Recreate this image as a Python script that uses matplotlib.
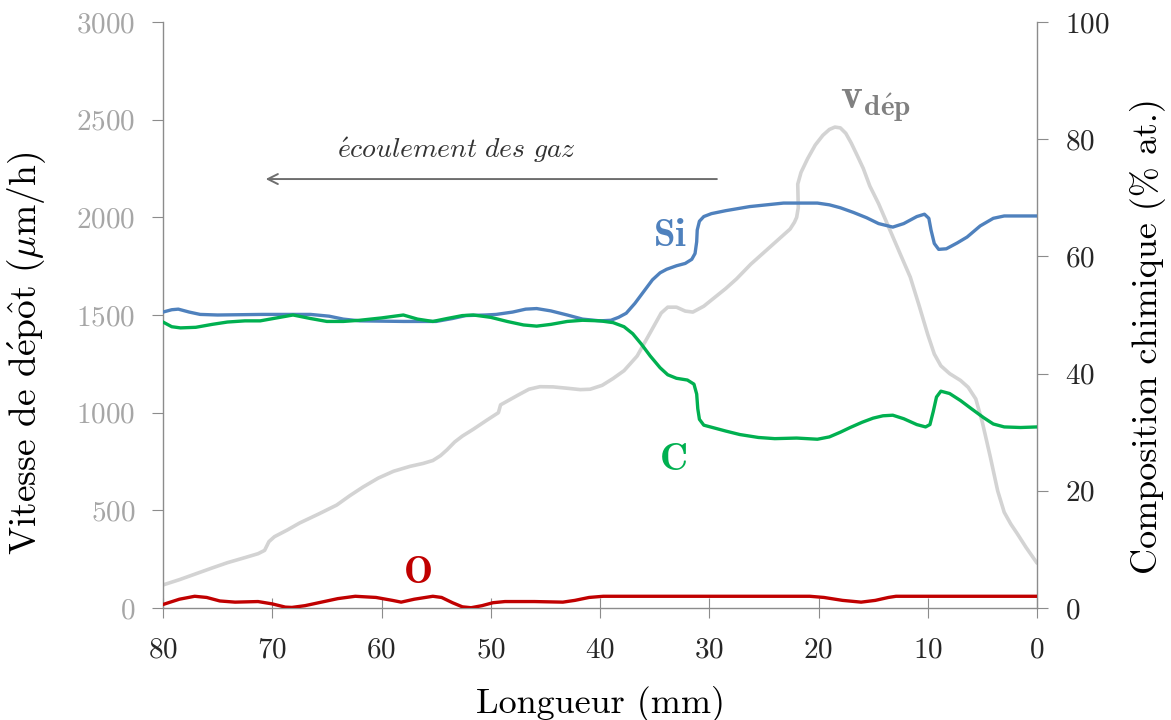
import matplotlib
matplotlib.use("Agg")
import matplotlib.pyplot as plt

plt.rcParams['font.family'] = ['cmr10']
plt.rcParams['mathtext.fontset'] = 'cm'
plt.rcParams['axes.formatter.use_mathtext'] = True
plt.rcParams['axes.unicode_minus'] = False

# ---- data ----
# deposition rate (µm/h) vs length (mm)
v_x = [80, 78.5, 77.25, 75.5, 74.1, 72.5, 71.3, 70.7, 70.3, 69.8, 68.6, 67.5, 65.8,
       64.1, 62.9, 61.7, 60.3, 58.9, 57.4, 56.2, 55.3, 54.6, 54.0, 53.3, 52.6, 51.6,
       50.4, 49.3, 49.1, 48.3, 47.5, 46.5, 45.5, 44.3, 43.0, 41.8, 40.9, 39.8, 38.8,
       37.8, 36.6, 35.8, 35.1, 34.4, 33.8, 33.0, 32.2, 31.5, 30.5, 29.5, 28.5, 27.5,
       26.2, 24.7, 23.5, 22.6, 22.2, 22.0, 21.85, 21.9, 21.6, 21.0, 20.3, 19.6, 19.0,
       18.5, 18.0, 17.5, 17.0, 16.4, 15.9, 15.3, 14.5, 13.5, 12.5, 11.6, 10.8, 10.0,
       9.4, 8.8, 8.0, 7.0, 6.3, 5.6, 5.0, 4.3, 3.6, 3.0, 2.4, 1.8, 1.0, 0]
v_y = [118, 145, 170, 205, 232, 258, 278, 295, 340, 365, 400, 435, 480,
       527, 575, 619, 665, 700, 725, 740, 755, 780, 810, 850, 880, 915,
       960, 1000, 1040, 1065, 1090, 1120, 1133, 1132, 1125, 1118, 1120, 1140, 1175,
       1215, 1290, 1370, 1440, 1510, 1540, 1540, 1520, 1515, 1545, 1590, 1635, 1685,
       1760, 1835, 1895, 1940, 1975, 2000, 2050, 2170, 2230, 2300, 2370, 2420, 2450,
       2462, 2458, 2430, 2380, 2310, 2250, 2160, 2070, 1940, 1810, 1694, 1550, 1400,
       1300, 1240, 1200, 1165, 1130, 1070, 950, 780, 600, 490, 430, 380, 310, 230]

# Si (% at.)
si_x = [80, 79.2, 78.6, 77.6, 76.6, 75.0, 70.9, 66.5, 64.8, 63.5, 62.0, 58.0, 55.0,
        53.5, 52.3, 50.5, 49.5, 48.0, 46.8, 45.8, 44.5, 43.0, 41.6, 40.0, 39.0, 38.3,
        37.6, 36.8, 36.0, 35.2, 34.5, 33.9, 33.0, 32.2, 31.6, 31.3, 31.15, 31.1, 30.9,
        30.5, 29.8, 28.5, 26.3, 23.2, 20.1, 19.0, 18.0, 16.8, 15.6, 14.5, 13.2, 12.2,
        11.0, 10.3, 9.9, 9.7, 9.4, 9.0, 8.3, 7.3, 6.4, 5.2, 4.0, 3.0, 0]
si_y = [50.5, 50.9, 51.0, 50.5, 50.1, 50.0, 50.1, 50.1, 49.8, 49.3, 49.0, 48.9, 48.9,
        49.4, 49.9, 50.0, 50.1, 50.5, 51.0, 51.1, 50.7, 50.0, 49.3, 49.0, 49.1, 49.6,
        50.3, 52.0, 54.0, 56.0, 57.2, 57.8, 58.4, 58.8, 59.5, 60.5, 62.5, 64.5, 66.0,
        66.8, 67.3, 67.8, 68.5, 69.1, 69.1, 68.8, 68.3, 67.5, 66.6, 65.6, 65.0, 65.6,
        66.8, 67.2, 66.5, 64.5, 62.2, 61.2, 61.3, 62.3, 63.3, 65.2, 66.5, 66.9, 66.9]

# C (% at.)
c_x = [80, 79.2, 78.4, 77.0, 75.5, 74.1, 72.5, 71.1, 69.6, 68.1, 66.5, 65.0, 63.5,
       62.0, 60.0, 58.0, 56.7, 55.3, 54.0, 52.6, 51.6, 50.0, 48.5, 47.0, 45.8, 44.5,
       43.0, 41.6, 40.0, 38.8, 37.8, 37.0, 36.2, 35.4, 34.5, 33.8, 33.0, 32.0, 31.4,
       31.15, 31.05, 30.9, 30.5, 29.7, 28.5, 27.2, 25.5, 24.0, 22.0, 20.1, 19.0, 18.0,
       17.1, 16.0, 15.0, 14.1, 13.2, 12.2, 11.0, 10.2, 9.8, 9.5, 9.2, 8.8, 8.0,
       7.0, 6.0, 4.9, 4.0, 3.0, 1.5, 0]
c_y = [48.8, 48.0, 47.8, 47.9, 48.4, 48.8, 49.0, 49.0, 49.5, 50.0, 49.4, 48.9, 48.9,
       49.1, 49.5, 50.0, 49.3, 48.9, 49.4, 49.9, 50.0, 49.6, 48.9, 48.3, 48.1, 48.4,
       48.9, 49.1, 49.0, 48.7, 48.0, 46.8, 45.0, 43.0, 41.0, 39.8, 39.2, 38.9, 38.2,
       36.5, 34.0, 32.2, 31.2, 30.8, 30.2, 29.6, 29.1, 28.9, 29.0, 28.8, 29.2, 30.0,
       30.8, 31.7, 32.4, 32.8, 32.9, 32.3, 31.3, 30.9, 31.3, 33.5, 36.0, 37.0, 36.6,
       35.4, 34.0, 32.5, 31.4, 30.9, 30.8, 30.9]

# O (% at.)
o_x = [80, 78.5, 77.1, 76.0, 74.8, 73.4, 71.3, 70.0, 68.8, 68.2, 67.0, 65.5, 64.0,
       62.4, 60.5, 59.0, 58.2, 57.0, 55.3, 54.5, 53.5, 52.6, 51.8, 50.8, 49.8, 48.7,
       46.0, 43.4, 42.3, 41.0, 39.7, 20.8, 19.5, 17.8, 16.1, 14.8, 13.6, 12.9, 0]
o_y = [0.6, 1.5, 2.0, 1.8, 1.2, 1.0, 1.1, 0.7, 0.15, 0.1, 0.4, 1.0, 1.6,
       2.0, 1.8, 1.3, 1.0, 1.5, 2.0, 1.8, 0.9, 0.2, 0.05, 0.4, 0.9, 1.1,
       1.1, 1.0, 1.3, 1.8, 2.0, 2.0, 1.8, 1.3, 1.0, 1.3, 1.8, 2.0, 2.0]

left_ticks = [0, 500, 1000, 1500, 2000, 2500, 3000]
right_ticks = [0, 20, 40, 60, 80, 100]
x_ticks = [80, 70, 60, 50, 40, 30, 20, 10, 0]

# ---- figure ----
fig = plt.figure(figsize=(11.71, 7.20), dpi=100)
ax = fig.add_axes([163/1171, 1-608/720, (1037-163)/1171, (608-22)/720])
ax2 = ax.twinx()

gray_axis = '#8c8c8c'
ax.plot(v_x, v_y, color='#d3d3d3', lw=2.6, solid_capstyle='round',
        solid_joinstyle='round', zorder=2)
for xs, ys, col in ((si_x, si_y, '#4f81bd'), (c_x, c_y, '#00b050'),
                    (o_x, o_y, '#c00000')):
    ax2.plot(xs, ys, color=col, lw=2.4, solid_joinstyle='round', zorder=3)

ax.set_xlim(80, 0)
ax.set_ylim(0, 3000)
ax2.set_ylim(0, 100)
ax.set_xticks(x_ticks)
ax.set_yticks(left_ticks)
ax2.set_yticks(right_ticks)

for a in (ax, ax2):
    a.spines['top'].set_visible(False)
    for s in ('left', 'right', 'bottom'):
        a.spines[s].set_color(gray_axis)
        a.spines[s].set_linewidth(1.0)
ax.spines['right'].set_visible(False)
ax2.spines['left'].set_visible(False)
ax2.spines['bottom'].set_visible(False)

ax.tick_params(axis='y', direction='out', length=8, color=gray_axis,
               labelcolor='#a6a6a6', labelsize=21, pad=12)
ax.tick_params(axis='x', direction='inout', length=14, color=gray_axis,
               labelcolor='#262626', labelsize=21, pad=14)
ax2.tick_params(axis='y', direction='out', length=8, color=gray_axis,
                labelcolor='#262626', labelsize=21, pad=12)

ax.set_xlabel('Longueur (mm)', fontsize=26, labelpad=16)
ax.set_ylabel(r'Vitesse de d$\acute{\mathrm{e}}$p$\hat{\mathrm{o}}$t ($\mu$m/h)',
              fontsize=27)
ax.yaxis.set_label_coords(-0.132, 0.435)
ax2.set_ylabel('Composition chimique (% at.)', fontsize=26)
ax2.yaxis.set_label_coords(1.106, 0.464)

# annotations
ax.text(33.6, 1905, r'$\mathbf{Si}$', color='#4f81bd', fontsize=28,
        ha='center', va='center')
ax.text(33.3, 755, r'$\mathbf{C}$', color='#00b050', fontsize=28,
        ha='center', va='center')
ax.text(56.7, 179, r'$\mathbf{O}$', color='#c00000', fontsize=28,
        ha='center', va='center')
ax.text(14.8, 2575, r'$\mathbf{v}_{\mathbf{d\acute{e}p}}$', color='#808080',
        fontsize=30, ha='center', va='center')
ax.text(53.1, 2345, r'$\mathit{\acute{e}coulement\ des\ gaz}$', color='#333333',
        fontsize=20, ha='center', va='center')
ax.annotate('', xy=(70.6, 2196), xytext=(29.3, 2196),
            arrowprops=dict(arrowstyle='->', color='#6e6e6e', lw=1.4,
                            mutation_scale=18, shrinkA=0, shrinkB=0))

fig.savefig('out.png', dpi=100)
